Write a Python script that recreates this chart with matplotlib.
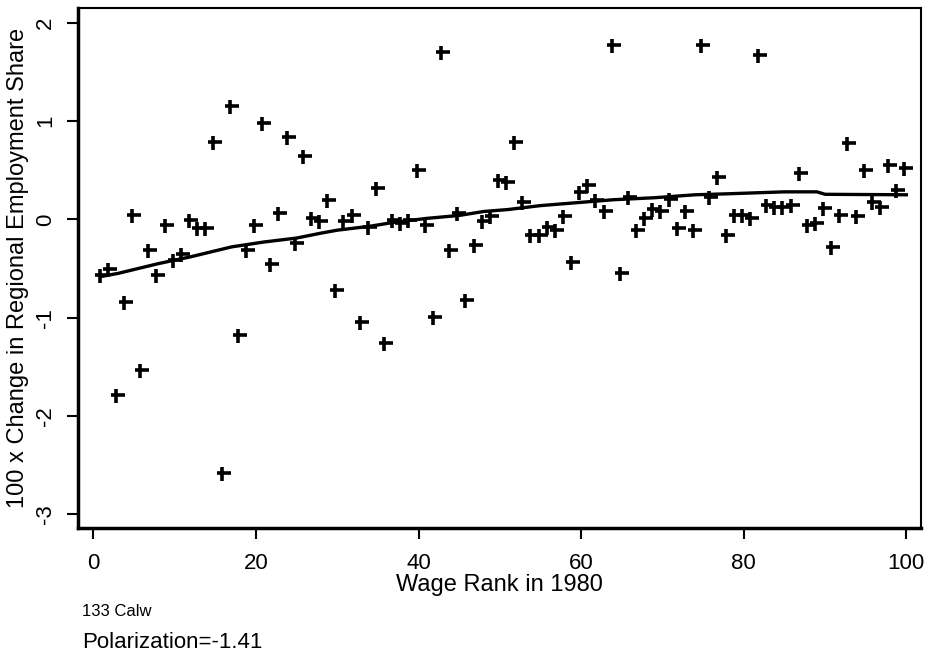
import numpy as np
import matplotlib
matplotlib.use("Agg")
import matplotlib.pyplot as plt
from matplotlib.path import Path

plt.rcParams["font.family"] = ["Liberation Sans", "DejaVu Sans"]

# Wage rank in 1980 (x) and 100 x change in regional employment share (y)
ranks = list(range(1, 101))
share_change = [
    -0.57, -0.51, -1.79, -0.84, 0.04, -1.53, -0.31, -0.57, -0.06, -0.41,
    -0.35, -0.01, -0.09, -0.09, 0.79, -2.58, 1.15, -1.18, -0.31, -0.06,
    0.98, -0.45, 0.06, 0.84, -0.24, 0.64, 0.01, -0.02, 0.20, -0.72,
    -0.02, 0.04, -1.04, -0.08, 0.32, -1.26, -0.01, -0.04, -0.01, 0.50,
    -0.06, -0.99, 1.70, -0.31, 0.06, -0.82, -0.26, -0.02, 0.03, 0.40,
    0.38, 0.79, 0.18, -0.16, -0.16, -0.08, -0.11, 0.03, -0.43, 0.28,
    0.35, 0.20, 0.08, 1.77, -0.55, 0.23, -0.11, 0.01, 0.11, 0.08,
    0.21, -0.09, 0.08, -0.11, 1.77, 0.23, 0.43, -0.16, 0.04, 0.04,
    0.01, 1.67, 0.15, 0.13, 0.13, 0.15, 0.47, -0.06, -0.04, 0.12,
    -0.28, 0.04, 0.78, 0.03, 0.50, 0.18, 0.13, 0.55, 0.30, 0.52,
]

# smoothed (lowess) line
smooth_x = [1, 3, 8, 12, 17, 21, 25, 28, 30, 34, 37, 41, 45, 48, 51,
            55, 58, 61, 64, 69, 74, 78, 85, 89, 90, 100]
smooth_y = [-0.58, -0.55, -0.45, -0.38, -0.28, -0.23, -0.19, -0.14, -0.11,
            -0.07, -0.03, 0.01, 0.04, 0.08, 0.10, 0.14, 0.16, 0.18, 0.20,
            0.22, 0.25, 0.26, 0.28, 0.28, 0.255, 0.25]

x_ticks = [0, 20, 40, 60, 80, 100]
y_ticks = [-3, -2, -1, 0, 1, 2]

region_label = "133 Calw"
polarization_label = "Polarization=-1.41"

# Stata style plus: bar a bit off centre
plus = Path([(-7, 0), (7, 0), (-2, 5.5), (-2, -7.5)],
            [Path.MOVETO, Path.LINETO, Path.MOVETO, Path.LINETO])

fig = plt.figure(figsize=(9.32, 6.57), dpi=100)
ax = fig.add_axes([0.0837, 0.1963, 0.9045, 0.7915])

ax.plot(ranks, share_change, linestyle="none", marker=plus, markersize=11.5,
        markeredgewidth=2.6, color="black")
ax.plot(smooth_x, smooth_y, color="black", linewidth=2.4)

ax.set_xlim(-1.9, 101.8)
ax.set_ylim(-3.14, 2.15)
ax.set_xticks(x_ticks)
ax.set_yticks(y_ticks)
ax.set_xticklabels([str(t) for t in x_ticks], fontsize=16)
ax.set_yticklabels([str(t) for t in y_ticks], fontsize=16, rotation=90, va="center")
ax.tick_params(direction="out", length=8, width=1.5, color="black")
ax.tick_params(axis="x", pad=10)
ax.tick_params(axis="y", pad=8)

for side in ["left", "bottom"]:
    ax.spines[side].set_linewidth(2.5)
for side in ["top", "right"]:
    ax.spines[side].set_linewidth(1.5)

ax.set_xlabel("Wage Rank in 1980", fontsize=17, labelpad=0)
ax.set_ylabel("100 x Change in Regional Employment Share", fontsize=17, labelpad=4)

fig.text(82 / 932, 1 - 612 / 657, region_label, fontsize=12, va="center", ha="left")
fig.text(82 / 932, 1 - 642 / 657, polarization_label, fontsize=16, va="center", ha="left")

fig.savefig("out.png", dpi=100)
